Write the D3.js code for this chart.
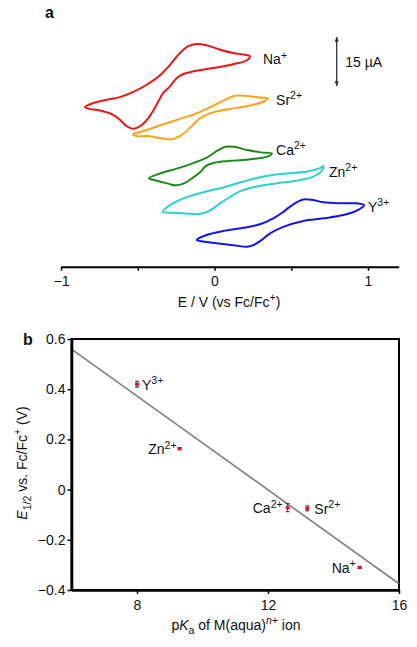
<!DOCTYPE html>
<html><head><meta charset="utf-8">
<script src="https://cdn.jsdelivr.net/npm/d3@7"></script>
<style>body{margin:0;background:#fff} text{font-family:"Liberation Sans",Arial,Helvetica,sans-serif;fill:#111}</style>
</head><body><svg id="c" width="417" height="647"></svg>
<script>
// ---------- Panel a: cyclic voltammograms (E in V vs Fc/Fc+, current in µA, stacked offsets) ----------
const cvIons = ["Na", "Sr", "Ca", "Zn", "Y"];
const cvCharges = ["+", "2+", "2+", "2+", "3+"];
const cvColors = ["#f01414", "#ffa21e", "#1f8a1f", "#30cfcf", "#1414f0"];

const cvNaE = [-0.844,-0.790,-0.702,-0.616,-0.529,-0.442,-0.355,-0.290,-0.225,-0.171,-0.116,-0.051,0.036,0.122,0.199,0.231,0.210,0.122,-0.008,-0.138,-0.203,-0.246,-0.290,-0.334,-0.377,-0.431,-0.485,-0.529,-0.572,-0.616,-0.670,-0.746,-0.822];
const cvNaI = [48.8,50.1,51.1,51.9,53.5,55.7,58.6,61.8,65.4,67.5,68.2,67.8,66.4,65.4,64.9,64.4,63.2,62.0,60.8,59.8,59.0,57.8,55.2,53.2,49.6,45.5,43.0,42.2,43.0,45.0,46.7,47.8,48.4];

const cvSrE = [-0.531,-0.477,-0.347,-0.216,-0.107,-0.021,0.066,0.132,0.197,0.283,0.349,0.316,0.218,0.088,-0.021,-0.096,-0.151,-0.216,-0.281,-0.347,-0.433,-0.509];
const cvSrI = [40.6,41.3,43.4,45.4,47.1,49.0,51.0,52.3,52.3,51.9,51.5,50.5,49.2,48.2,47.1,45.4,42.9,40.3,39.0,39.3,40.0,40.0];

const cvCaE = [-0.427,-0.351,-0.242,-0.134,-0.047,0.018,0.073,0.127,0.214,0.301,0.373,0.344,0.236,0.106,-0.003,-0.057,-0.090,-0.145,-0.199,-0.253,-0.308,-0.373];
const cvCaI = [27.1,28.6,30.1,31.8,33.5,35.5,36.7,36.7,35.7,35.0,34.7,33.7,32.9,32.4,31.8,30.8,29.1,27.1,25.5,24.9,25.5,26.3];

const cvZnE = [-0.337,-0.272,-0.186,-0.055,0.075,0.184,0.270,0.379,0.487,0.596,0.683,0.711,0.694,0.640,0.531,0.401,0.270,0.162,0.053,-0.034,-0.099,-0.186,-0.272];
const cvZnI = [16.8,19.4,21.2,23.0,24.5,26.0,27.1,28.1,28.6,29.1,30.1,30.8,29.1,27.5,26.3,25.5,24.5,23.0,19.9,17.1,16.1,16.3,16.5];

const cvYE = [-0.116,-0.051,0.057,0.188,0.296,0.383,0.448,0.513,0.579,0.644,0.709,0.818,0.926,0.974,0.937,0.839,0.709,0.579,0.448,0.362,0.308,0.253,0.210,0.122,0.014,-0.073];
const cvYI = [8.2,9.7,10.9,11.9,13.0,14.8,16.8,19.1,20.6,20.4,19.7,19.4,19.4,18.9,17.4,15.8,14.8,14.0,12.2,10.2,8.2,6.6,6.1,6.6,7.2,7.7];

// label anchors for each voltammogram (E, I)
const cvLabelE = [0.316, 0.401, 0.401, 0.746, 1.000];
const cvLabelI = [62.0, 49.5, 34.2, 27.5, 16.8];

const cvTicks = [-1, -0.5, 0, 0.5, 1];
const cvTickLabels = ["\u22121", "", "0", "", "1"];
const scaleBarUA = 15;
const scaleBarE = 0.796, scaleBarTopI = 70.3;

// ---------- Panel b: E1/2 vs pKa ----------
const bIons = ["Y", "Zn", "Ca", "Sr", "Na"];
const bCharges = ["3+", "2+", "2+", "2+", "+"];
const bPKa = [8.0, 9.3, 12.6, 13.2, 14.8];
const bE12 = [0.42, 0.163, -0.072, -0.075, -0.31];
const bErr = [0.012, 0.004, 0.016, 0.010, 0.004];
const bLabelSide = ["right", "left", "left", "right", "left"];
const fitPKa = [6, 16];
const fitE = [0.56, -0.375];
const bXTicks = [8, 12, 16];
const bXTickLabels = ["8", "12", "16"];
const bYTicks = [-0.4, -0.2, 0, 0.2, 0.4, 0.6];
const bYTickLabels = ["\u22120.4", "\u22120.2", "0", "0.2", "0.4", "0.6"];

// ================= drawing =================
const svg = d3.select("#c");
const FS = 14;

function rich(sel, parts, size) {
  let cur = 0;
  parts.forEach(p => {
    const target = p.s === "sup" ? -0.4 * size : p.s === "sub" ? 0.28 * size : 0;
    const ts = sel.append("tspan").text(p.t).attr("dy", target - cur);
    if (p.s) ts.attr("font-size", size * 0.75);
    if (p.i) ts.attr("font-style", "italic");
    cur = target;
  });
  return sel;
}

// ----- panel a -----
const xA = d3.scaleLinear().domain([-1, 1.2]).range([61, 398.7]);
const yA = d3.scaleLinear().domain([0, 75]).range([266.7, 21.7]);

const cvE = [cvNaE, cvSrE, cvCaE, cvZnE, cvYE];
const cvI = [cvNaI, cvSrI, cvCaI, cvZnI, cvYI];
const lineA = d3.line().x(d => xA(d[0])).y(d => yA(d[1])).curve(d3.curveCatmullRomClosed.alpha(0.5));

const gA = svg.append("g");
cvIons.forEach((ion, k) => {
  const pts = cvE[k].map((e, j) => [e, cvI[k][j]]);
  gA.append("path").attr("d", lineA(pts)).attr("fill", "none")
    .attr("stroke", cvColors[k]).attr("stroke-width", 2).attr("stroke-linejoin", "round");
  rich(gA.append("text").attr("x", xA(cvLabelE[k])).attr("y", yA(cvLabelI[k])).attr("font-size", FS),
    [{t: ion}, {t: cvCharges[k], s: "sup"}], FS);
});

// axis a
const axA = d3.axisBottom(xA).tickValues(cvTicks).tickFormat((d, i) => cvTickLabels[i]).tickSize(4).tickSizeOuter(0);
const gAx = svg.append("g").attr("transform", `translate(0,${yA(0)})`).call(axA);
gAx.select(".domain").attr("stroke", "#000").attr("stroke-width", 2);
gAx.selectAll(".tick line").attr("stroke", "#000").attr("stroke-width", 1.5);
gAx.selectAll(".tick text").attr("font-size", FS).attr("font-family", "Liberation Sans, Arial, sans-serif").attr("fill", "#111").attr("dy", "0.9em");

rich(svg.append("text").attr("x", 229).attr("y", 307).attr("text-anchor", "middle").attr("font-size", FS),
  [{t: "E / V (vs Fc/Fc"}, {t: "+", s: "sup"}, {t: ")"}], FS);

svg.append("text").attr("x", 45).attr("y", 18).attr("font-size", 16).attr("font-weight", "bold").text("a");

// scale bar
const defs = svg.append("defs");
defs.append("marker").attr("id", "ah").attr("viewBox", "0 0 10 10").attr("refX", 9).attr("refY", 5)
  .attr("markerWidth", 4).attr("markerHeight", 7).attr("orient", "auto-start-reverse")
  .append("path").attr("d", "M0,1 L10,5 L0,9 z").attr("fill", "#333");
svg.append("line").attr("x1", xA(scaleBarE)).attr("x2", xA(scaleBarE))
  .attr("y1", yA(scaleBarTopI)).attr("y2", yA(scaleBarTopI - scaleBarUA))
  .attr("stroke", "#333").attr("stroke-width", 1.3)
  .attr("marker-start", "url(#ah)").attr("marker-end", "url(#ah)");
svg.append("text").attr("x", xA(scaleBarE) + 8.5).attr("y", yA(scaleBarTopI - scaleBarUA / 2) + 5)
  .attr("font-size", FS).text(scaleBarUA + " \u00b5A");

// ----- panel b -----
const xB = d3.scaleLinear().domain([6, 16]).range([71.5, 399]);
const yB = d3.scaleLinear().domain([-0.4, 0.6]).range([590, 339]);

svg.append("rect").attr("x", xB(6)).attr("y", yB(0.6)).attr("width", xB(16) - xB(6)).attr("height", yB(-0.4) - yB(0.6))
  .attr("fill", "none").attr("stroke", "#000").attr("stroke-width", 2);

// fit line
svg.append("line").attr("x1", xB(fitPKa[0])).attr("y1", yB(fitE[0])).attr("x2", xB(fitPKa[1])).attr("y2", yB(fitE[1]))
  .attr("stroke", "#808080").attr("stroke-width", 1.6);

const axBx = d3.axisBottom(xB).tickValues(bXTicks).tickFormat((d, i) => bXTickLabels[i]).tickSize(4).tickSizeOuter(0);
const gBx = svg.append("g").attr("transform", `translate(0,${yB(-0.4)})`).call(axBx);
const axBy = d3.axisLeft(yB).tickValues(bYTicks).tickFormat((d, i) => bYTickLabels[i]).tickSize(4).tickSizeOuter(0);
const gBy = svg.append("g").attr("transform", `translate(${xB(6)},0)`).call(axBy);
[gBx, gBy].forEach(g => {
  g.select(".domain").attr("stroke", "#000").attr("stroke-width", 2.6);
  g.selectAll(".tick line").attr("stroke", "#000").attr("stroke-width", 1.5);
  g.selectAll(".tick text").attr("font-size", FS).attr("font-family", "Liberation Sans, Arial, sans-serif").attr("fill", "#111");
});
gBx.selectAll(".tick text").attr("dy", "0.9em");
gBy.selectAll(".tick text").attr("x", -6);

// points with error bars
const labelGap = [5, 3, 5, 7, 4];
bIons.forEach((ion, k) => {
  const cx = xB(bPKa[k]), cy = yB(bE12[k]);
  const y1 = yB(bE12[k] + bErr[k]), y2 = yB(bE12[k] - bErr[k]);
  svg.append("line").attr("x1", cx).attr("x2", cx).attr("y1", y1).attr("y2", y2).attr("stroke", "#333").attr("stroke-width", 1);
  [y1, y2].forEach(yy => svg.append("line").attr("x1", cx - 2).attr("x2", cx + 2).attr("y1", yy).attr("y2", yy).attr("stroke", "#333").attr("stroke-width", 1));
  svg.append("rect").attr("x", cx - 2).attr("y", cy - 1.5).attr("width", 4).attr("height", 3).attr("fill", "#e8101a");
  const right = bLabelSide[k] === "right";
  rich(svg.append("text").attr("x", right ? cx + labelGap[k] : cx - labelGap[k]).attr("y", cy + 5.5)
    .attr("text-anchor", right ? "start" : "end").attr("font-size", FS),
    [{t: ion}, {t: bCharges[k], s: "sup"}], FS);
});

svg.append("text").attr("x", 23).attr("y", 345).attr("font-size", 16).attr("font-weight", "bold").text("b");

rich(svg.append("text").attr("x", 236).attr("y", 630).attr("text-anchor", "middle").attr("font-size", FS),
  [{t: "p"}, {t: "K", i: true}, {t: "a", s: "sub"}, {t: " of M(aqua)"}, {t: "n+", s: "sup", i: true}, {t: " ion"}], FS);

rich(svg.append("text").attr("transform", "translate(27,463) rotate(-90)").attr("text-anchor", "middle").attr("font-size", FS),
  [{t: "E", i: true}, {t: "1/2", s: "sub"}, {t: " vs. Fc/Fc"}, {t: "+", s: "sup"}, {t: " (V)"}], FS);
</script>
</body></html>
